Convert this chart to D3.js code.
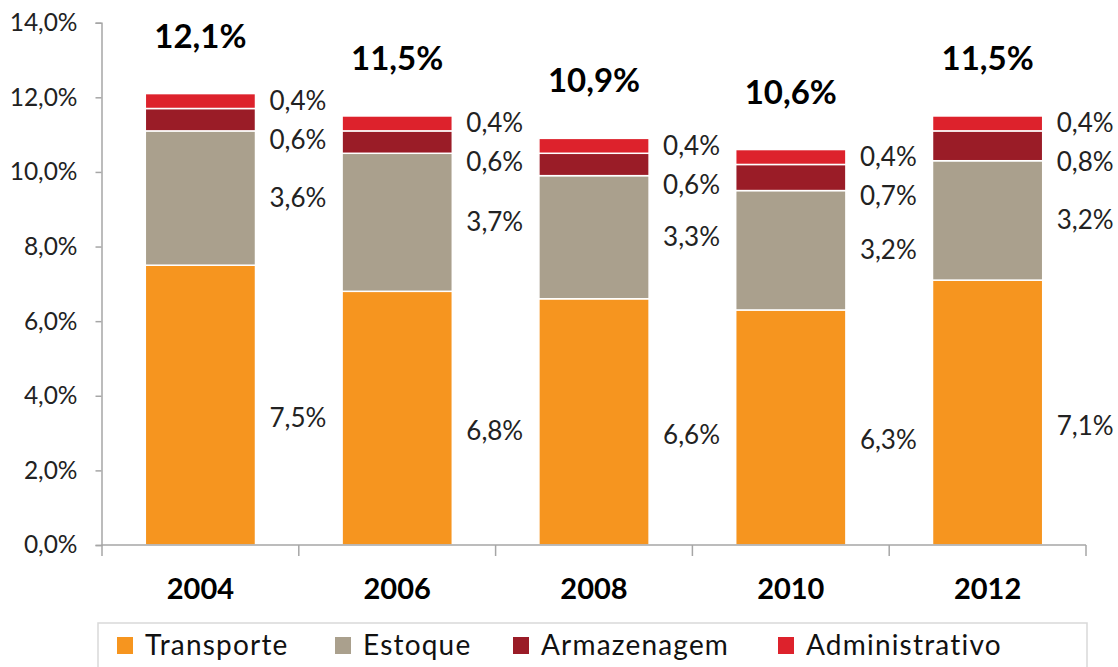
<!DOCTYPE html>
<html><head><meta charset="utf-8">
<script src="https://cdn.jsdelivr.net/npm/d3@7"></script>
<style>
html,body{margin:0;padding:0;background:#fff;}
svg{display:block;font-family:Lato,"Open Sans",sans-serif;}
</style></head>
<body><svg id="c" width="1118" height="667"></svg>
<script>
const years = ["2004","2006","2008","2010","2012"];
const seriesNames = ["Transporte","Estoque","Armazenagem","Administrativo"];
const transporte = [7.5, 6.8, 6.6, 6.3, 7.1];
const estoque = [3.6, 3.7, 3.3, 3.2, 3.2];
const armazenagem = [0.6, 0.6, 0.6, 0.7, 0.8];
const administrativo = [0.4, 0.4, 0.4, 0.4, 0.4];
const totals = [12.1, 11.5, 10.9, 10.6, 11.5];
const yTicks = [0, 2, 4, 6, 8, 10, 12, 14];
const colors = ["#F6951F", "#AAA08D", "#9A1C27", "#DD222C"];

const loc = d3.formatLocale({decimal: ",", thousands: ".", grouping: [3], currency: ["", ""]});
const f1 = v => loc.format(".1f")(v) + "%";

const svg = d3.select("#c");
const x = d3.scaleBand().domain(years).range([102, 1086]).paddingInner(0).paddingOuter(0);
const y = d3.scaleLinear().domain([0, 14]).range([545, 22.7]);
const barW = x.bandwidth() * 0.56;

const seriesVals = [transporte, estoque, armazenagem, administrativo];
const rows = years.map((yr, i) => {
  const r = {year: yr};
  seriesNames.forEach((s, k) => r[s] = seriesVals[k][i]);
  return r;
});
const stack = d3.stack().keys(seriesNames)(rows);

// axes
const axisColor = "#A6A6A6";
const yAxis = svg.append("g").attr("transform", "translate(101.5,0)")
  .call(d3.axisLeft(y).tickValues(yTicks).tickSize(6).tickPadding(18).tickFormat(f1));
yAxis.select(".domain").attr("stroke", axisColor).attr("stroke-width", 1.5);
yAxis.selectAll(".tick line").attr("stroke", axisColor).attr("stroke-width", 1.5);
yAxis.selectAll(".tick text").attr("font-size", 24.5).attr("fill", "#222").attr("font-family", "Lato");

// bars
stack.forEach((layer, k) => {
  svg.append("g").selectAll("rect").data(layer).enter().append("rect")
    .attr("x", d => x(d.data.year) + (x.bandwidth() - barW) / 2)
    .attr("width", barW)
    .attr("y", d => y(d[1]))
    .attr("height", d => y(d[0]) - y(d[1]))
    .attr("fill", colors[k])
    .attr("stroke", "#fff").attr("stroke-width", 1.5);
});

// x axis
const xAxisG = svg.append("g");
xAxisG.append("line").attr("x1", 101.5).attr("x2", x.range()[1]).attr("y1", y(0)).attr("y2", y(0))
  .attr("stroke", axisColor).attr("stroke-width", 1.5);
const bounds = years.map(yr => x(yr)).concat([x.range()[1]]);
xAxisG.selectAll("line.t").data(bounds).enter().append("line").attr("class", "t")
  .attr("x1", d => d).attr("x2", d => d).attr("y1", y(0)).attr("y2", y(0) + 11)
  .attr("stroke", axisColor).attr("stroke-width", 1.5);
xAxisG.selectAll("text").data(years).enter().append("text")
  .attr("x", d => x(d) + x.bandwidth() / 2).attr("y", 599)
  .attr("text-anchor", "middle").attr("font-size", 29).attr("font-weight", "bold").attr("fill", "#000")
  .text(d => d);

// segment labels
const minGap = 39;
years.forEach((yr, i) => {
  const lx = x(yr) + (x.bandwidth() + barW) / 2 + 14;
  let prev = -Infinity;
  for (let k = seriesNames.length - 1; k >= 0; k--) {
    const d = stack[k][i];
    let cy = (y(d[0]) + y(d[1])) / 2;
    if (k === 0) cy += 13;
    cy = Math.max(cy, prev + minGap);
    prev = cy;
    svg.append("text").attr("x", lx).attr("y", cy + 9)
      .attr("font-size", 26).attr("fill", "#222").text(f1(seriesVals[k][i]));
  }
});

// totals
svg.append("g").selectAll("text").data(totals).enter().append("text")
  .attr("x", (d, i) => x(years[i]) + x.bandwidth() / 2)
  .attr("y", d => y(d) - 58 + 12)
  .attr("text-anchor", "middle").attr("font-size", 33).attr("font-weight", "bold").attr("fill", "#000")
  .text(d => f1(d));

// legend
const lg = svg.append("g");
lg.append("rect").attr("x", 98).attr("y", 623).attr("width", 989).attr("height", 60)
  .attr("fill", "#fff").attr("stroke", "#D9D9D9").attr("stroke-width", 1.5);
const legendX = [117, 335, 513, 778];
seriesNames.forEach((s, k) => {
  lg.append("rect").attr("x", legendX[k]).attr("y", 637).attr("width", 16).attr("height", 17).attr("fill", colors[k]);
  lg.append("text").attr("x", legendX[k] + 28).attr("y", 655).attr("font-size", 28)
    .attr("letter-spacing", 1.2).attr("fill", "#111").text(s);
});
</script></body></html>
